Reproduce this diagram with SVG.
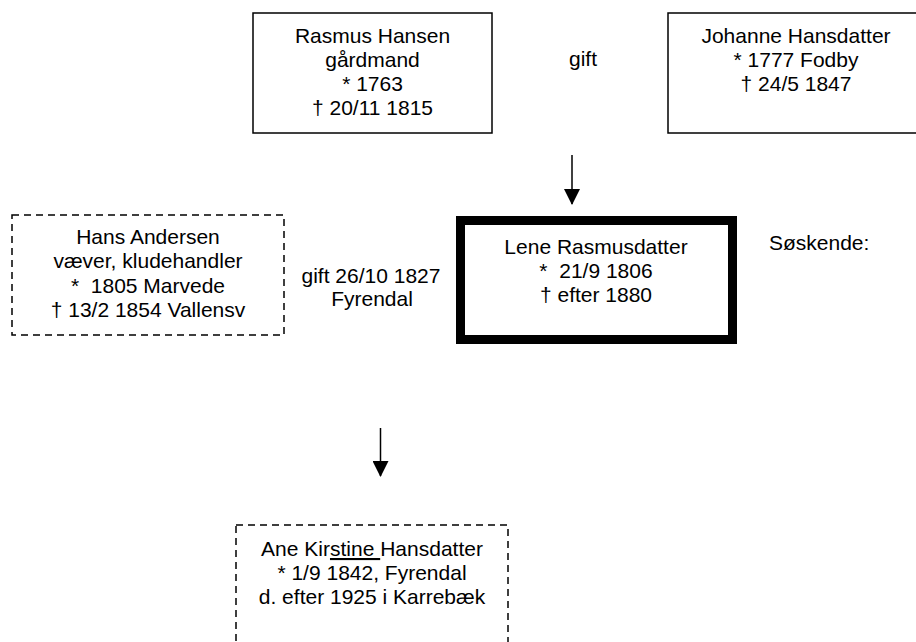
<svg xmlns="http://www.w3.org/2000/svg" width="916" height="642" viewBox="0 0 916 642">
<style>
text { font-family: "Liberation Sans", Arial, sans-serif; font-size: 21px; fill: #000; }
.c { text-anchor: middle; }
.box { fill: #fff; stroke: #000; stroke-width: 1.5; }
.dash { fill: #fff; stroke: #000; stroke-width: 1.5; stroke-dasharray: 7 5; }
.thick { fill: #fff; stroke: #000; stroke-width: 9; }
.conn { stroke: #000; stroke-width: 1.5; fill: none; marker-end: url(#arr); }
</style>
<defs>
<marker id="arr" markerUnits="userSpaceOnUse" markerWidth="16" markerHeight="16" refX="15" refY="8" orient="auto" viewBox="0 0 16 16">
<path d="M0,0 L16,8 L0,16 Z" fill="#000"/>
</marker>
</defs>
<rect width="916" height="642" fill="#fff"/>
<g id="rasmus">
<rect class="box" x="253" y="13" width="239" height="120"/>
<text class="c" x="372.5" y="43">Rasmus Hansen</text>
<text class="c" x="372.5" y="67">gårdmand</text>
<text class="c" x="372.5" y="91">* 1763</text>
<text class="c" x="372.5" y="115">† 20/11 1815</text>
</g>
<g id="johanne">
<rect class="box" x="668" y="13" width="256" height="120"/>
<text class="c" x="796" y="43">Johanne Hansdatter</text>
<text class="c" x="796" y="67">* 1777 Fodby</text>
<text class="c" x="796" y="91">† 24/5 1847</text>
</g>
<g id="hans">
<rect class="dash" x="12" y="215" width="272" height="120"/>
<text class="c" x="148" y="244">Hans Andersen</text>
<text class="c" x="148" y="268">væver, kludehandler</text>
<text class="c" x="148" y="293" xml:space="preserve">*  1805 Marvede</text>
<text class="c" x="148" y="317">† 13/2 1854 Vallensv</text>
</g>
<g id="lene">
<rect class="thick" x="460.5" y="220.5" width="272" height="119"/>
<text class="c" x="596" y="254">Lene Rasmusdatter</text>
<text class="c" x="596" y="278" xml:space="preserve">*  21/9 1806</text>
<text class="c" x="596" y="302">† efter 1880</text>
</g>
<g id="ane">
<rect class="dash" x="236" y="525" width="272" height="140"/>
<text class="c" x="372" y="556">Ane Kir<tspan text-decoration="underline" xml:space="preserve">stine </tspan>Hansdatter</text>
<text class="c" x="372" y="580">* 1/9 1842, Fyrendal</text>
<text class="c" x="372" y="604">d. efter 1925 i Karrebæk</text>
</g>
<g id="labels">
<text class="c" x="583" y="66">gift</text>
<text class="c" x="371" y="283">gift 26/10 1827</text>
<text class="c" x="372" y="306">Fyrendal</text>
<text x="769" y="250">Søskende:</text>
</g>
<g id="connectors">
<line class="conn" x1="572" y1="155" x2="572" y2="204"/>
<line class="conn" x1="380.5" y1="428" x2="380.5" y2="476"/>
</g>
</svg>
